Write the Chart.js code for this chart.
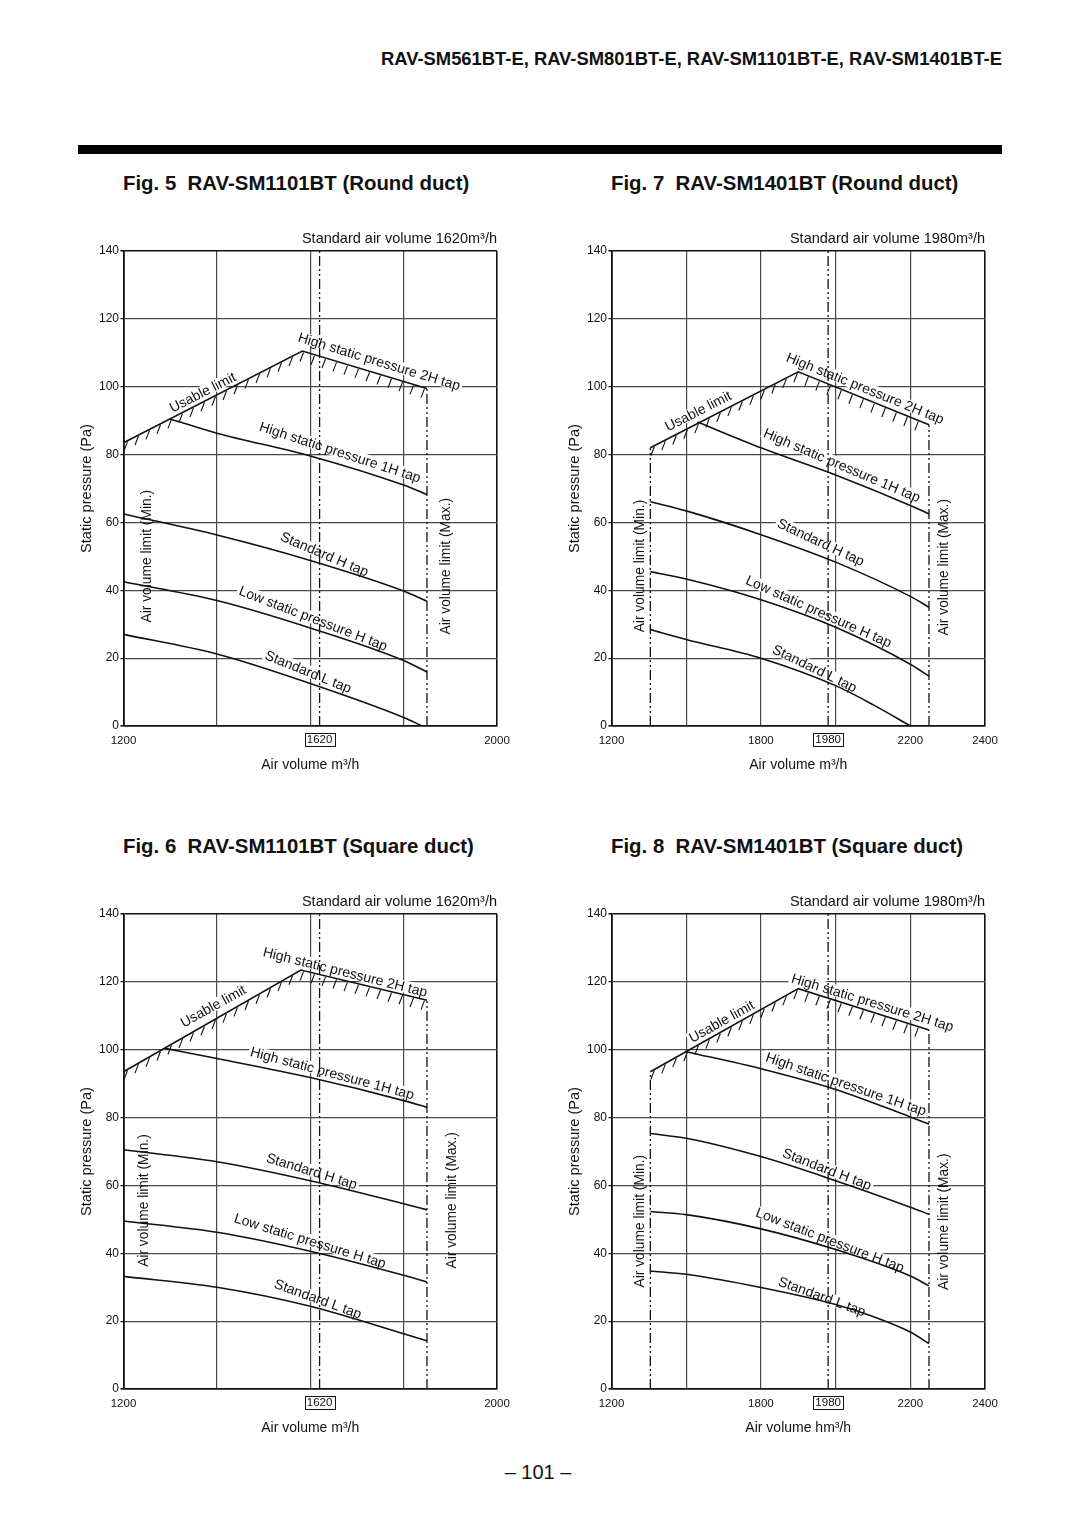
<!DOCTYPE html>
<html>
<head>
<meta charset="utf-8">
<script src="https://cdn.jsdelivr.net/npm/chart.js@4.4.1/dist/chart.umd.min.js"></script>
<style>
  body { margin: 0; background: #fff; }
  #page { position: relative; width: 1080px; height: 1525px; overflow: hidden;
          font-family: 'Liberation Sans', Arial, sans-serif; color: #111; }
  .abs { position: absolute; white-space: pre; }
  #head { right: 78px; top: 50px; font-size: 18.4px; line-height: 18px; font-weight: bold; }
  #bar { left: 78px; top: 145px; width: 924px; height: 9px; background: #000; }
  .fig { font-size: 20.4px; line-height: 20px; font-weight: bold; }
  #pg { left: 438px; width: 200px; top: 1462px; text-align: center; font-size: 20px; line-height: 20px; }
  canvas { position: absolute; }
</style>
</head>
<body>
<div id="page">
  <div id="head" class="abs">RAV-SM561BT-E, RAV-SM801BT-E, RAV-SM1101BT-E, RAV-SM1401BT-E</div>
  <div id="bar" class="abs"></div>

  <div class="abs fig" style="left:123px;top:173px">Fig. 5  RAV-SM1101BT (Round duct)</div>
  <div class="abs fig" style="left:611px;top:173px">Fig. 7  RAV-SM1401BT (Round duct)</div>
  <div class="abs fig" style="left:123px;top:836px">Fig. 6  RAV-SM1101BT (Square duct)</div>
  <div class="abs fig" style="left:611px;top:836px">Fig. 8  RAV-SM1401BT (Square duct)</div>

  <canvas id="c5" width="480" height="580" style="left:40px;top:200px"></canvas>
  <canvas id="c7" width="480" height="580" style="left:528px;top:200px"></canvas>
  <canvas id="c6" width="480" height="580" style="left:40px;top:863px"></canvas>
  <canvas id="c8" width="480" height="580" style="left:528px;top:863px"></canvas>

  <div id="pg" class="abs">– 101 –</div>
</div>

<script>
// ---- axes ----
const yTicks = [0, 20, 40, 60, 80, 100, 120, 140];
const gridX1101 = [1200, 1400, 1600, 1800, 2000];
const labelX1101 = [1200, 2000];
const gridX1401 = [1200, 1500, 1800, 2000, 2200, 2400];
const labelX1401 = [1200, 1800, 2200, 2400];

// ---- Fig. 5  RAV-SM1101BT (Round duct) ----
const fig5Limit = [[1200, 83.5], [1583, 110.5], [1850, 99.5]];
const fig5Tap1H = [[1300, 90.5], [1400, 86.3], [1600, 79.6], [1800, 71], [1850, 68.2]];
const fig5StdH  = [[1200, 62.5], [1400, 56.3], [1600, 48.8], [1800, 39.8], [1850, 36.8]];
const fig5LowH  = [[1200, 42.5], [1400, 37], [1600, 28.9], [1800, 19.3], [1850, 15.9]];
const fig5StdL  = [[1200, 27], [1400, 21.2], [1600, 12.5], [1800, 2.5], [1840, 0]];
const fig5AirLimits = [1200, 1850];
const fig5Std = 1620;

// ---- Fig. 7  RAV-SM1401BT (Round duct) ----
const fig7Limit = [[1356, 82], [1900, 104.4], [2250, 88.8]];
const fig7Tap1H = [[1545, 89.6], [1800, 82], [2000, 74], [2200, 65], [2250, 62.5]];
const fig7StdH  = [[1356, 66.1], [1500, 63.4], [1800, 56.4], [2000, 48.3], [2200, 38.2], [2250, 35]];
const fig7LowH  = [[1356, 45.5], [1500, 43.3], [1800, 37.2], [2000, 29.1], [2200, 18.2], [2250, 14.7]];
const fig7StdL  = [[1356, 28.4], [1500, 25.5], [1800, 20], [2000, 11.9], [2100, 6.3], [2200, 0]];
const fig7AirLimits = [1356, 2250];
const fig7Std = 1980;

// ---- Fig. 6  RAV-SM1101BT (Square duct) ----
const fig6Limit = [[1200, 93.5], [1580, 123.5], [1850, 114.6]];
const fig6Tap1H = [[1289, 100.4], [1400, 97.4], [1600, 91.8], [1800, 85], [1850, 83]];
const fig6StdH  = [[1200, 70.5], [1400, 67], [1600, 61.4], [1800, 54.6], [1850, 52.8]];
const fig6LowH  = [[1200, 49.5], [1400, 46.2], [1600, 40.6], [1800, 33.5], [1850, 31.5]];
const fig6StdL  = [[1200, 33.2], [1400, 30], [1600, 24.4], [1800, 16.3], [1850, 14.2]];
const fig6AirLimits = [1200, 1850];
const fig6Std = 1620;

// ---- Fig. 8  RAV-SM1401BT (Square duct) ----
const fig8Limit = [[1356, 93.5], [1900, 118], [2250, 105.8]];
const fig8Tap1H = [[1495, 99.5], [1800, 94.4], [2000, 88.3], [2200, 80.2], [2250, 78.1]];
const fig8StdH  = [[1356, 75.3], [1500, 73.9], [1800, 68.5], [2000, 61.4], [2200, 53.6], [2250, 51.5]];
const fig8LowH  = [[1356, 52.3], [1500, 51.4], [1800, 47.2], [2000, 41.1], [2200, 33.3], [2250, 30.4]];
const fig8StdL  = [[1356, 34.8], [1500, 33.8], [1800, 29.9], [2000, 24.9], [2100, 21.4], [2200, 16.8], [2250, 13.4]];
const fig8AirLimits = [1356, 2250];
const fig8Std = 1980;

const FONT = "'Liberation Sans', Arial, sans-serif";
const NARROW = "'Liberation Sans Narrow', 'Arial Narrow', 'Liberation Sans', sans-serif";
Chart.defaults.font.family = FONT;
Chart.defaults.color = '#111';

// x axis of the 1401 charts: 1200-1800 is drawn squeezed (2/3 scale)
const squeezeAt = 1800, squeezeRatio = 2 / 3;
const squeeze = v => (v < squeezeAt ? squeezeAt - (squeezeAt - v) * squeezeRatio : v);

class SqueezedScale extends Chart.LinearScale {
  getPixelForValue(value) {
    if (value === null || value === undefined || isNaN(value)) return NaN;
    const a = squeeze(this.min), b = squeeze(this.max);
    return this.getPixelForDecimal((squeeze(value) - a) / (b - a));
  }
  getValueForPixel(pixel) {
    const a = squeeze(this.min), b = squeeze(this.max);
    const s = a + this.getDecimalForPixel(pixel) * (b - a);
    return s < squeezeAt ? squeezeAt - (squeezeAt - s) / squeezeRatio : s;
  }
}
SqueezedScale.id = 'squeezed';
SqueezedScale.defaults = Chart.LinearScale.defaults;
Chart.register(SqueezedScale);

// labels, hatching, standard air volume
const notesPlugin = {
  id: 'figNotes',
  beforeDatasetsDraw(chart, args, opts) {
    // white patches behind the curve texts, they break the grid lines
    const { ctx, scales: { x, y } } = chart;
    ctx.save();
    ctx.font = '14px ' + FONT;
    opts.notes.forEach(([text, vx, vy, ang]) => {
      if (ang === -90) return;
      const w = ctx.measureText(text).width;
      ctx.save();
      ctx.translate(x.getPixelForValue(vx), y.getPixelForValue(vy));
      ctx.rotate(ang * Math.PI / 180);
      ctx.fillStyle = '#fff';
      ctx.fillRect(-2, -11, w + 4, 12);
      ctx.restore();
    });
    ctx.restore();
  },
  afterDatasetsDraw(chart, args, opts) {
    const { ctx, chartArea, scales: { x, y } } = chart;
    ctx.save();

    // hatching under the usable limit
    chart.data.datasets.forEach((ds, i) => {
      if (!ds.hatch) return;
      const pts = chart.getDatasetMeta(i).data.map(p => ({ x: p.x, y: p.y }));
      const end = pts[pts.length - 1].x;
      ctx.beginPath();
      ctx.strokeStyle = '#111';
      ctx.lineWidth = 1.1;
      for (let px = pts[0].x + 4; px <= end - 2; px += 11) {
        let k = 0;
        while (k < pts.length - 2 && pts[k + 1].x < px) k++;
        const a = pts[k], b = pts[k + 1];
        const py = a.y + (b.y - a.y) * (px - a.x) / (b.x - a.x);
        ctx.moveTo(px, py + 1);
        ctx.lineTo(px - 3.5, py + 10);
      }
      ctx.stroke();
    });

    // texts along the curves
    ctx.fillStyle = '#111';
    opts.notes.forEach(([text, vx, vy, ang]) => {
      ctx.save();
      ctx.translate(x.getPixelForValue(vx), y.getPixelForValue(vy));
      ctx.rotate(ang * Math.PI / 180);
      ctx.font = (ang === -90 ? '13.8px ' : '14px ') + FONT;
      ctx.textBaseline = 'alphabetic';
      ctx.fillText(text, 0, 0);
      ctx.restore();
    });

    // standard air volume
    ctx.font = '14.5px ' + FONT;
    ctx.textAlign = 'right';
    ctx.textBaseline = 'alphabetic';
    ctx.fillText('Standard air volume ' + opts.std + 'm³/h', chartArea.right, chartArea.top - 8);

    ctx.font = '11.5px ' + NARROW;
    ctx.textAlign = 'center';
    ctx.textBaseline = 'middle';
    const sx = x.getPixelForValue(opts.std);
    const sy = chartArea.bottom + 14;
    const w = ctx.measureText(String(opts.std)).width;
    ctx.fillText(String(opts.std), sx, sy);
    ctx.lineWidth = 1;
    ctx.strokeStyle = '#111';
    ctx.strokeRect(Math.round(sx - w / 2 - 2) + 0.5, Math.round(sy - 7) + 0.5, Math.round(w + 4), 13);
    ctx.restore();
  }
};

function solid(pts, extra) {
  return Object.assign({
    data: pts.map(([vx, vy]) => ({ x: vx, y: vy })),
    borderColor: '#111', borderWidth: 1.6, pointRadius: 0, fill: false,
    cubicInterpolationMode: 'monotone'
  }, extra);
}

function dashDot(vx, top) {
  return {
    data: [{ x: vx, y: 0 }, { x: vx, y: top }],
    borderColor: '#111', borderWidth: 1.3, pointRadius: 0, fill: false,
    borderDash: [10, 3, 2, 3, 2, 3]
  };
}

const edge = (n, inner, outer) => c => (c.index === 0 || c.index === n - 1 ? outer : inner);

function buildFigure(id, fig) {
  const grid = fig.grid;
  const [lo, hi] = fig.airLimits;
  const datasets = [solid(fig.limit, { tension: 0, cubicInterpolationMode: 'default', hatch: true })];
  fig.taps.forEach(t => datasets.push(solid(t)));
  datasets.push(dashDot(fig.std, yTicks[yTicks.length - 1]));
  if (lo > grid[0]) datasets.push(dashDot(lo, fig.limit[0][1]));
  datasets.push(dashDot(hi, fig.limit[fig.limit.length - 1][1]));

  new Chart(document.getElementById(id), {
    type: 'line',
    data: { datasets },
    options: {
      responsive: false,
      animation: false,
      devicePixelRatio: 1,
      layout: { padding: { left: 0, top: 51, right: 23, bottom: 0 } },
      plugins: {
        legend: { display: false },
        tooltip: { enabled: false },
        figNotes: { notes: fig.notes, std: fig.std }
      },
      scales: {
        x: {
          type: fig.squeezed ? 'squeezed' : 'linear',
          min: grid[0], max: grid[grid.length - 1],
          afterBuildTicks: s => { s.ticks = grid.map(v => ({ value: v })); },
          afterFit: s => { s.height = 54; },
          ticks: {
            autoSkip: false, maxRotation: 0, minRotation: 0, padding: 8,
            font: { family: NARROW, size: 11.5 }, color: '#111',
            callback: v => (fig.labels.includes(v) ? String(v) : '')
          },
          grid: {
            drawTicks: false,
            color: edge(grid.length, '#4a4a4a', '#111'),
            lineWidth: edge(grid.length, 1.2, 1.6)
          },
          border: { color: '#111', width: 1.6 },
          title: {
            display: true, text: fig.xTitle, color: '#111',
            font: { size: 14 }, padding: { top: 0, bottom: 6.6 }
          }
        },
        y: {
          min: 0, max: 140,
          afterBuildTicks: s => { s.ticks = yTicks.map(v => ({ value: v })); },
          afterFit: s => { s.width = 83.5; },
          ticks: { padding: 1.5, font: { size: 12 }, color: '#111' },
          grid: {
            tickLength: 3, tickColor: '#111',
            color: edge(yTicks.length, '#4a4a4a', '#111'),
            lineWidth: edge(yTicks.length, 1.2, 1.6)
          },
          border: { color: '#111', width: 1.6 },
          title: {
            display: true, text: 'Static pressure (Pa)', color: '#111',
            font: { size: 14.6 }, padding: { top: 38.2, bottom: 0 }
          }
        }
      }
    },
    plugins: [notesPlugin]
  });
}

buildFigure('c5', {
  grid: gridX1101, labels: labelX1101, squeezed: false, xTitle: 'Air volume m³/h',
  limit: fig5Limit, taps: [fig5Tap1H, fig5StdH, fig5LowH, fig5StdL],
  airLimits: fig5AirLimits, std: fig5Std,
  notes: [
    ['Usable limit', 1305, 92.3, -27],
    ['High static pressure 2H tap', 1572, 113.4, 17],
    ['High static pressure 1H tap', 1489, 87.1, 18],
    ['Standard H tap', 1534, 54.8, 23],
    ['Low static pressure H tap', 1445, 38.8, 21],
    ['Standard L tap', 1501, 19.8, 22],
    ['Air volume limit (Min.)', 1258, 30.5, -90],
    ['Air volume limit (Max.)', 1899, 27, -90]
  ]
});

buildFigure('c7', {
  grid: gridX1401, labels: labelX1401, squeezed: true, xTitle: 'Air volume m³/h',
  limit: fig7Limit, taps: [fig7Tap1H, fig7StdH, fig7LowH, fig7StdL],
  airLimits: fig7AirLimits, std: fig7Std,
  notes: [
    ['Usable limit', 1427, 86.8, -27],
    ['High static pressure 2H tap', 1865, 107.6, 22],
    ['High static pressure 1H tap', 1804, 85.3, 23],
    ['Standard H tap', 1841, 58.8, 25],
    ['Low static pressure H tap', 1735, 42, 24],
    ['Standard L tap', 1828, 21.7, 26],
    ['Air volume limit (Min.)', 1330, 27.6, -90],
    ['Air volume limit (Max.)', 2301, 26.7, -90]
  ]
});

buildFigure('c6', {
  grid: gridX1101, labels: labelX1101, squeezed: false, xTitle: 'Air volume m³/h',
  limit: fig6Limit, taps: [fig6Tap1H, fig6StdH, fig6LowH, fig6StdL],
  airLimits: fig6AirLimits, std: fig6Std,
  notes: [
    ['Usable limit', 1329, 106.5, -29],
    ['High static pressure 2H tap', 1497, 127.6, 14],
    ['High static pressure 1H tap', 1470, 98.2, 15],
    ['Standard H tap', 1504, 67, 17],
    ['Low static pressure H tap', 1435, 49.2, 17],
    ['Standard L tap', 1521, 29.9, 20],
    ['Air volume limit (Min.)', 1252, 36, -90],
    ['Air volume limit (Max.)', 1913, 35.5, -90]
  ]
});

buildFigure('c8', {
  grid: gridX1401, labels: labelX1401, squeezed: true, xTitle: 'Air volume hm³/h',
  limit: fig8Limit, taps: [fig8Tap1H, fig8StdH, fig8LowH, fig8StdL],
  airLimits: fig8AirLimits, std: fig8Std,
  notes: [
    ['Usable limit', 1524, 102, -29],
    ['High static pressure 2H tap', 1879, 119.9, 17],
    ['High static pressure 1H tap', 1810, 96.7, 19],
    ['Standard H tap', 1855, 68.5, 21],
    ['Low static pressure H tap', 1775, 51, 21],
    ['Standard L tap', 1844, 30.6, 20],
    ['Air volume limit (Min.)', 1330, 29.9, -90],
    ['Air volume limit (Max.)', 2302, 29.2, -90]
  ]
});
</script>
</body>
</html>
